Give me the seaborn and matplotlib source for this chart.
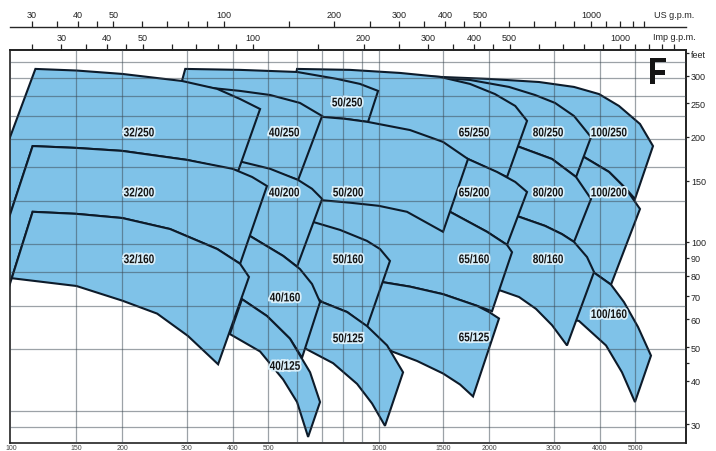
import matplotlib
matplotlib.use("Agg")
import matplotlib.pyplot as plt
import matplotlib.patheffects as pe
import matplotlib.transforms as mtransforms
from matplotlib.ticker import FixedLocator, NullLocator, NullFormatter, FuncFormatter
from matplotlib.textpath import TextPath
from matplotlib.patches import PathPatch
from matplotlib.font_manager import FontProperties
import seaborn as sns

sns.set_theme(style="white")
plt.rcParams['font.family'] = ['Liberation Sans', 'DejaVu Sans']

# Flow in l/min, head in m
# each outline: top curve left->right, then bottom curve right->left
q32_250 = [116, 150, 200, 291, 363, 419, 475, 414, 300, 200, 150, 114, 90, 90]
h32_250 = [95.5, 94.5, 92.4, 88.2, 83.7, 78.3, 73.3, 48.7, 52.4, 55.6, 56.7, 57.4, 27.0, 46.6]
q32_200 = [114, 150, 200, 300, 400, 452, 496, 419, 363, 270, 200, 150, 114, 90, 90]
h32_200 = [57.4, 56.7, 55.6, 52.4, 49.4, 46.8, 44.1, 26.4, 29.1, 33.2, 35.7, 36.7, 37.2, 16.9, 27.0]
q32_160 = [114, 150, 200, 270, 363, 419, 443, 365, 302, 249, 200, 150, 100]
h32_160 = [37.2, 36.7, 35.7, 33.2, 29.1, 26.4, 24.2, 13.6, 16.4, 19.0, 20.7, 22.8, 24.0]

q40_250 = [224, 291, 351, 419, 506, 610, 701, 603, 506, 424, 326, 224]
h40_250 = [89.4, 87.1, 84.2, 82.6, 80.4, 76.3, 70.0, 45.9, 49.0, 51.3, 53.4, 56.3]
q40_200 = [326, 424, 506, 603, 658, 701, 599, 549, 446, 370]
h40_200 = [52.7, 51.7, 49.4, 45.9, 43.3, 40.5, 25.9, 27.8, 31.7, 33.2]
q40_160 = [370, 446, 549, 610, 658, 692, 618, 573, 496, 424, 370]
h40_160 = [33.7, 31.7, 27.8, 25.5, 23.1, 20.5, 14.2, 16.1, 18.7, 20.9, 21.6]
q40_125 = [424, 496, 573, 650, 692, 642, 599, 549, 475, 393]
h40_125 = [20.9, 18.7, 16.1, 12.9, 10.6, 8.42, 10.6, 12.3, 14.8, 16.6]

q50_250 = [297, 419, 599, 770, 889, 996, 935, 810, 701, 506, 326, 284]
h50_250 = [95.5, 94.9, 93.6, 89.4, 86.5, 82.6, 67.3, 68.7, 69.6, 73.3, 78.3, 80.4]
q50_200 = [538, 701, 810, 935, 1217, 1497, 1751, 1497, 1194, 1000, 835, 692, 538]
h50_200 = [69.6, 69.6, 68.7, 67.3, 63.8, 59.0, 52.7, 32.6, 37.2, 38.7, 39.5, 40.2, 41.0]
q50_160 = [592, 662, 785, 929, 1008, 1073, 929, 820, 701, 610, 573]
h50_160 = [36.7, 34.8, 33.0, 30.7, 29.1, 26.9, 17.4, 19.2, 20.5, 23.1, 24.7]
q50_125 = [610, 701, 820, 929, 1054, 1165, 1040, 959, 873, 751, 630, 592]
h50_125 = [21.5, 20.5, 19.2, 17.5, 15.4, 12.9, 9.06, 10.5, 11.95, 13.7, 15.1, 15.3]

q65_250 = [599, 835, 1143, 1469, 1773, 2074, 2355, 2536, 2237, 1998, 1751, 1380, 1008, 760, 581]
h65_250 = [95.5, 94.9, 93.0, 90.6, 86.5, 80.9, 74.8, 67.8, 46.8, 49.4, 52.7, 56.3, 62.2, 64.3, 80.9]
q65_200 = [1143, 1469, 1751, 2100, 2355, 2536, 2237, 1973, 1564, 1296, 1143]
h65_200 = [59.4, 56.3, 52.7, 48.4, 45.3, 42.4, 29.9, 32.6, 37.2, 39.2, 40.5]
q65_160 = [650, 889, 1143, 1296, 1564, 1973, 2237, 2308, 2036, 1853, 1497, 1217, 1021, 835, 650]
h65_160 = [45.3, 42.7, 40.5, 39.2, 37.2, 32.6, 29.9, 28.5, 19.3, 20.0, 21.6, 22.7, 23.4, 22.4, 23.9]
q65_125 = [835, 1021, 1217, 1497, 1853, 1998, 2127, 1807, 1666, 1497, 1272, 1087, 947, 835]
h65_125 = [23.6, 23.4, 22.7, 21.6, 20.0, 19.2, 18.4, 11.0, 11.9, 12.8, 13.9, 14.8, 16.6, 18.4]

q80_250 = [1008, 1380, 1773, 2265, 2667, 3023, 3405, 3789, 3449, 2967, 2412, 1773, 1143]
h80_250 = [91.8, 90.6, 88.8, 84.8, 80.4, 76.3, 70.0, 60.9, 46.8, 52.7, 57.1, 60.2, 68.7]
q80_200 = [1773, 2412, 2967, 3449, 3789, 3405, 3158, 2839, 2412, 1888]
h80_200 = [60.2, 57.1, 52.7, 46.8, 40.5, 30.5, 32.1, 33.9, 36.0, 39.2]
q80_160 = [1888, 2412, 2839, 3158, 3405, 3695, 3861, 3259, 2967, 2683, 2412, 2154, 1948]
h80_160 = [39.2, 36.0, 33.9, 32.1, 30.5, 27.6, 25.0, 15.4, 17.6, 19.6, 21.2, 22.1, 22.7]

q100_250 = [1073, 1469, 1998, 2734, 3405, 3984, 4515, 5152, 5590, 4992, 4718, 4242, 3626, 2734, 1773]
h100_250 = [91.8, 90.6, 89.4, 87.6, 84.8, 80.9, 74.8, 66.4, 57.4, 40.5, 43.3, 48.4, 53.4, 60.2, 73.3]
q100_200 = [2734, 3626, 4242, 4718, 5152, 4295, 3861, 3514, 3100, 2734]
h100_200 = [58.2, 53.4, 48.4, 43.3, 37.9, 23.0, 24.9, 26.9, 29.1, 31.1]
q100_160 = [3100, 3514, 3861, 4295, 4659, 5088, 5520, 4992, 4601, 4163, 3514, 3100]
h100_160 = [29.1, 26.9, 24.9, 23.0, 20.5, 17.4, 14.4, 10.6, 12.9, 15.4, 18.1, 18.6]

# label positions (l/min, m)
pump_names = ["32/250", "40/250", "50/250", "65/250", "80/250", "100/250",
              "32/200", "40/200", "50/200", "65/200", "80/200", "100/200",
              "32/160", "40/160", "50/160", "65/160", "80/160", "100/160",
              "40/125", "50/125", "65/125"]
label_q = [222, 552, 820, 1818, 2893, 4242,
           222, 552, 825, 1818, 2893, 4242,
           222, 555, 825, 1818, 2893, 4242,
           555, 825, 1818]
label_h = [63.0, 63.0, 76.8, 63.0, 63.0, 63.0,
           42.4, 42.4, 42.4, 42.4, 42.4, 42.4,
           27.3, 21.2, 27.3, 27.3, 27.3, 19.0,
           13.5, 16.2, 16.3]

grid_lpm = [150, 200, 300, 400, 500, 600, 700, 800, 900, 1000, 1500, 2000, 3000, 4000, 5000]
grid_m = [9, 10, 15, 20, 25, 30, 40, 50, 60, 70, 80, 90, 100]
lpm_ticks = [100, 150, 200, 300, 400, 500, 1000, 1500, 2000, 3000, 4000, 5000]
us_major = [30, 40, 50, 100, 200, 300, 400, 500, 1000]
us_minor = [35, 45, 60, 70, 80, 90, 150, 250, 350, 450, 600, 700, 800, 900, 1100, 1200, 1300, 1400]
imp_major = [30, 40, 50, 100, 200, 300, 400, 500, 1000]
imp_minor = [25, 35, 45, 60, 70, 80, 90, 150, 250, 350, 450, 600, 700, 800, 900, 1100, 1200, 1300, 1400]
feet_ticks = [348, 300, 250, 200, 150, 100, 90, 80, 70, 60, 50, 40, 30]
feet_labels = ["feet", "300", "250", "200", "150", "100", "90", "80", "70", "60", "50", "40", "30"]
feet_minor = [45]

LPM_PER_US = 3.78541
LPM_PER_IMP = 4.54609
FT_PER_M = 3.28084

outlines = {
    "100/250": (q100_250, h100_250), "100/200": (q100_200, h100_200), "100/160": (q100_160, h100_160),
    "80/250": (q80_250, h80_250), "80/200": (q80_200, h80_200), "80/160": (q80_160, h80_160),
    "65/250": (q65_250, h65_250), "65/200": (q65_200, h65_200), "65/160": (q65_160, h65_160),
    "65/125": (q65_125, h65_125),
    "50/250": (q50_250, h50_250), "50/200": (q50_200, h50_200), "50/160": (q50_160, h50_160),
    "50/125": (q50_125, h50_125),
    "40/250": (q40_250, h40_250), "40/200": (q40_200, h40_200), "40/160": (q40_160, h40_160),
    "40/125": (q40_125, h40_125),
    "32/250": (q32_250, h32_250), "32/200": (q32_200, h32_200), "32/160": (q32_160, h32_160),
}

fill_color = "#7fc2e8"
edge_color = "#0d1b2a"
ink = "#141414"

fig = plt.figure(figsize=(7.16, 4.52), dpi=100)
ax = fig.add_axes([10 / 716, 8 / 452, 676 / 716, 393 / 452])
ax.set_xscale("log")
ax.set_yscale("log")
ax.set_xlim(98.9, 6876)
ax.set_ylim(8.09, 108.2)
ax.set_autoscale_on(False)

bold_font = FontProperties(family=["Liberation Sans", "DejaVu Sans"], weight="bold")


def narrow_text(x, y, s, size, squeeze, transform, halo=None, clip=True):
    # condensed bold lettering, like the chart's narrow typeface
    tp = TextPath((0, 0), s, size=size, prop=bold_font)
    bb = tp.get_extents()
    px = fig.dpi / 72.0
    tr = (mtransforms.Affine2D()
          .translate(-(bb.x0 + bb.x1) / 2, -(bb.y0 + bb.y1) / 2)
          .scale(px * squeeze, px)
          + mtransforms.ScaledTranslation(x, y, transform))
    effects = [pe.withStroke(linewidth=2.5, foreground=halo)] if halo else None
    patch = PathPatch(tp, transform=tr, facecolor=ink, edgecolor="none", zorder=6,
                      path_effects=effects, clip_on=clip)
    fig.add_artist(patch) if not clip else ax.add_artist(patch)


# pump ranges, drawn from the right so smaller sizes sit on top
for name, (q, h) in outlines.items():
    ax.fill(q, h, facecolor=fill_color, edgecolor=edge_color, linewidth=1.5, zorder=2)

for g in grid_lpm:
    ax.axvline(g, color="#3a4650", linewidth=0.9, alpha=0.5, zorder=3)
for g in grid_m:
    ax.axhline(g, color="#3a4650", linewidth=0.9, alpha=0.5, zorder=3)

for name, q, h in zip(pump_names, label_q, label_h):
    narrow_text(q, h, name, 9, 0.8, ax.transData, halo="#d9effa")

for side in ["left", "right", "top", "bottom"]:
    ax.spines[side].set_color("#222222")
    ax.spines[side].set_linewidth(1.2)

ax.set_xticks(lpm_ticks, labels=[str(v) for v in lpm_ticks])
ax.xaxis.set_minor_locator(NullLocator())
ax.tick_params(axis="x", which="major", length=0, pad=0.5, labelsize=5, colors="#444444")
ax.set_yticks([])
ax.yaxis.set_minor_locator(NullLocator())

fmt = FuncFormatter(lambda v, p: f"{v:g}")

imp = ax.secondary_xaxis("top", functions=(lambda q: q / LPM_PER_IMP, lambda g: g * LPM_PER_IMP))
imp.xaxis.set_major_locator(FixedLocator(imp_major))
imp.xaxis.set_major_formatter(fmt)
imp.xaxis.set_minor_locator(FixedLocator(imp_minor))
imp.xaxis.set_minor_formatter(NullFormatter())
imp.tick_params(axis="x", which="both", top=True, direction="out", length=4, width=0.9,
                pad=2, labelsize=6.5, colors="#222222")

us = ax.secondary_xaxis(1.0 + 23 / 393, functions=(lambda q: q / LPM_PER_US, lambda g: g * LPM_PER_US))
us.xaxis.set_major_locator(FixedLocator(us_major))
us.xaxis.set_major_formatter(fmt)
us.xaxis.set_minor_locator(FixedLocator(us_minor))
us.xaxis.set_minor_formatter(NullFormatter())
us.tick_params(axis="x", which="both", top=True, direction="out", length=4, width=0.9,
               pad=2, labelsize=6.5, colors="#222222")
us.spines["top"].set_linewidth(1.0)
us.spines["bottom"].set_linewidth(1.0)

ft = ax.secondary_yaxis("right", functions=(lambda h: h * FT_PER_M, lambda f: f / FT_PER_M))
ft.set_yticks(feet_ticks, labels=feet_labels)
ft.yaxis.set_minor_locator(FixedLocator(feet_minor))
ft.yaxis.set_minor_formatter(NullFormatter())
ft.tick_params(axis="y", which="both", right=True, direction="out", length=2.5, width=0.9,
               pad=1, labelsize=6.5, colors="#222222")

fig.text(654 / 716, 1 - 16 / 452, "US g.p.m.", fontsize=6.5, ha="left", va="center", color="#222222")
fig.text(653 / 716, 1 - 38 / 452, "Imp g.p.m.", fontsize=6.5, ha="left", va="center", color="#222222")
narrow_text(658 / 716, 1 - 72 / 452, "F", 28, 0.78, fig.transFigure, clip=False)

fig.savefig("out.png", dpi=100)
